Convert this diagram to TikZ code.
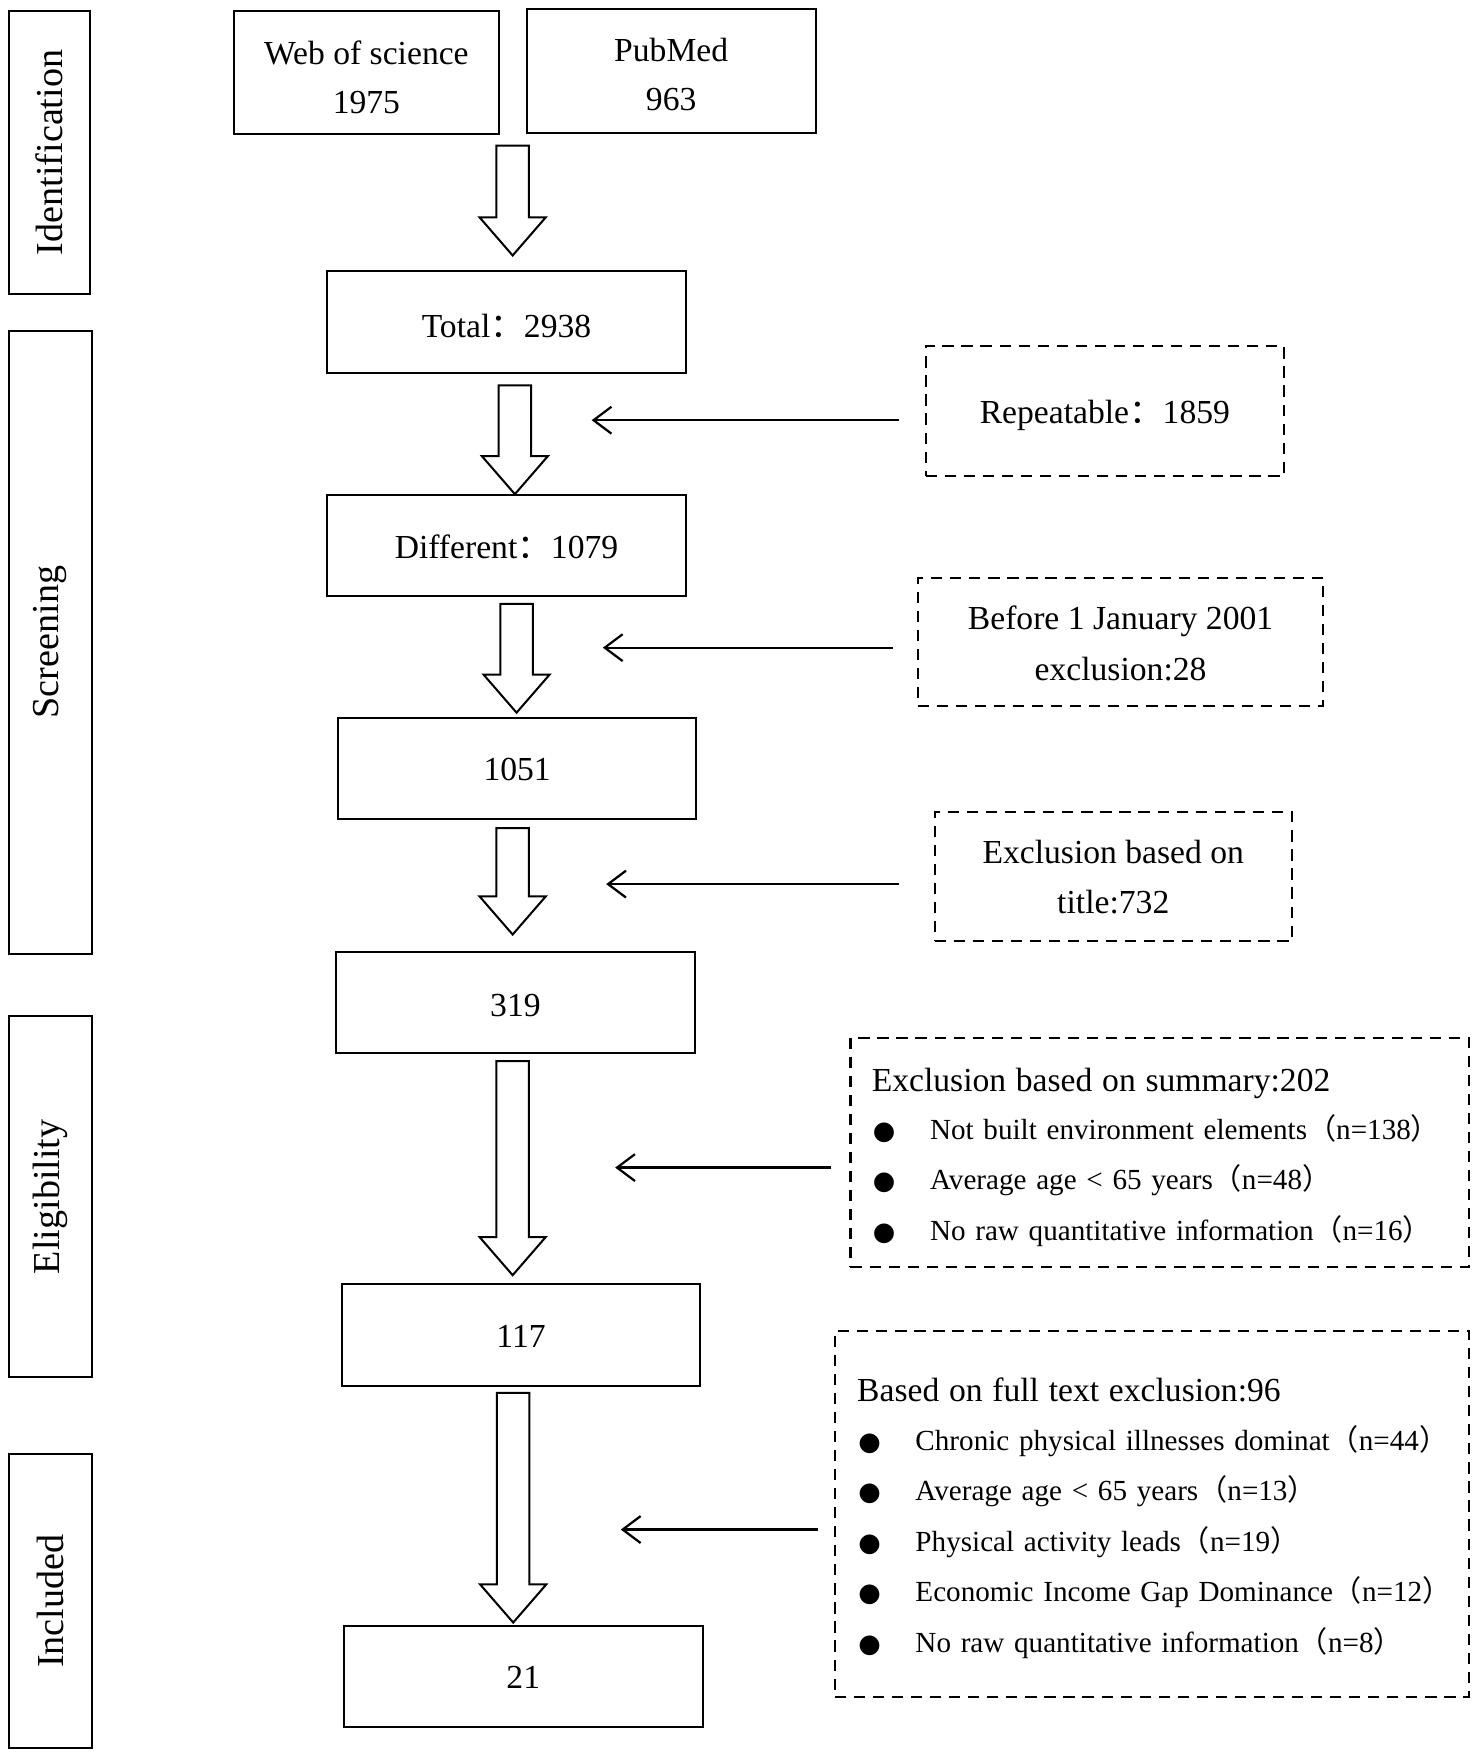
\documentclass[tikz,border=0pt]{standalone}
\usepackage{fontspec}
\usepackage{graphicx}
\setmainfont{Liberation Serif}
\newfontfamily\cjk{Noto Sans CJK SC}
\newfontfamily\dejavu{DejaVu Sans}
\usetikzlibrary{calc,arrows.meta}
\newcommand\fc{{\cjk ：}}
\newcommand\lp{{\cjk （}}
\newcommand\rp{{\cjk ）}}
\newcommand\dn[2][3pt]{\raisebox{-#1}[\height][\depth]{#2}}
\newcommand\bul[1]{\dn[3pt]{\makebox[52pt][l]{\hspace*{1pt}{\dejavu\fontsize{23}{23}\selectfont ●}}#1}}
\newcommand\blockarrow[2]{\draw[blk] let \p1=(#1), \p2=(#2) in
  (\x1-14.5pt,\y1) -- (\x1+14.5pt,\y1) -- (\x1+14.5pt,\y2+34pt) -- (\x1+29.5pt,\y2+34pt)
  -- (\x1,\y2) -- (\x1-29.5pt,\y2+34pt) -- (\x1-14.5pt,\y2+34pt) -- cycle;}
\begin{document}
\begin{tikzpicture}[x=1pt,y=-1pt,
  box/.style={draw, line width=1.8pt, inner sep=0pt, outer sep=0pt, align=center,
    font=\fontsize{30}{44}\selectfont},
  stage/.style={draw, line width=1.8pt, inner sep=0pt, outer sep=0pt,
    font=\fontsize{34}{40}\selectfont},
  dbox/.style={draw, line width=1.8pt, dash pattern=on 10pt off 7pt, inner sep=0pt,
    outer sep=0pt, align=center, font=\fontsize{30}{45}\selectfont},
  lbox/.style={dbox, align=left, inner ysep=0pt, font=\fontsize{26}{45}\selectfont},
  blk/.style={line width=1.8pt, fill=white, line join=miter},
  thinarr/.style={line width=2pt, -{Straight Barb[length=16pt,width=24pt,line width=2pt]}}]
\useasboundingbox (0,0) rectangle (1318,1568);

% stage labels
\node[stage, minimum width=72pt, minimum height=252pt] (sid) at (44,136) {\rotatebox{90}{Identification}};
\node[stage, minimum width=74pt, minimum height=556pt] (sscr) at (45,573) {\rotatebox{90}{Screening}};
\node[stage, minimum width=74pt, minimum height=322pt] (seli) at (45,1068) {\rotatebox{90}{Eligibility}};
\node[stage, minimum width=74pt, minimum height=262pt] (sinc) at (45,1429) {\rotatebox{90}{Included}};

% main boxes
\node[box, minimum width=236pt, minimum height=110pt] (wos) at (327,65) {\dn[4pt]{Web of science}\\\dn[4pt]{1975}};
\node[box, minimum width=258pt, minimum height=111pt] (pub) at (599,63.5) {\dn{PubMed}\\\dn{963}};
\node[box, minimum width=320pt, minimum height=91pt] (total) at (452,287.5) {\dn{Total\fc 2938}};
\node[box, minimum width=320pt, minimum height=90pt] (diff) at (452,487) {\dn[1pt]{Different\fc 1079}};
\node[box, minimum width=319pt, minimum height=90pt] (n1051) at (461.5,686) {\dn[1pt]{1051}};
\node[box, minimum width=320pt, minimum height=90pt] (n319) at (460,895) {\dn[2pt]{319}};
\node[box, minimum width=320pt, minimum height=91pt] (n117) at (465,1191.5) {\dn[1pt]{117}};
\node[box, minimum width=320pt, minimum height=90pt] (n21) at (467,1496) {\dn[1pt]{21}};

% exclusion boxes
\node[dbox, minimum width=320pt, minimum height=116pt] (rep) at (986,367) {\dn[4pt]{Repeatable\fc 1859}};
\node[dbox, minimum width=362pt, minimum height=114pt] (bef) at (1000,573) {\dn[1pt]{Before 1 January 2001}\\\dn[1pt]{exclusion:28}};
\node[dbox, minimum width=319pt, minimum height=115pt] (tit) at (993.5,782.5) {Exclusion based on\\title:732};
\node[lbox, text width=514pt, inner xsep=19pt, minimum height=205pt] (sum) at (1035,1028.5)
  {\dn[5pt]{\fontsize{30}{45}\selectfont Exclusion based on summary:202}\\
   \bul{Not built environment elements\lp n=138\rp}\\
   \bul{Average age < 65 years\lp n=48\rp}\\
   \bul{No raw quantitative information\lp n=16\rp}};
\node[lbox, text width=526pt, inner xsep=20pt, minimum height=326pt] (full) at (1028,1351)
  {\dn[4pt]{\fontsize{30}{45}\selectfont Based on full text exclusion:96}\\
   \bul{Chronic physical illnesses dominat\lp n=44\rp}\\
   \bul{Average age < 65 years\lp n=13\rp}\\
   \bul{Physical activity leads\lp n=19\rp}\\
   \bul{Economic Income Gap Dominance\lp n=12\rp}\\
   \bul{No raw quantitative information\lp n=8\rp}};

% block arrows
\blockarrow{[shift={(12.5,10)}]wos.south east}{[shift={(0,-14)}]total.north}
\blockarrow{[shift={(7.5,11)}]total.south}{[shift={(0,-1)}]diff.north}
\blockarrow{[shift={(9,7)}]diff.south}{[shift={(0,-5)}]n1051.north}
\blockarrow{[shift={(-4,8)}]n1051.south}{[shift={(0,-16)}]n319.north}
\blockarrow{[shift={(-2.5,7)}]n319.south}{[shift={(0,-8)}]n117.north}
\blockarrow{[shift={(-7,6)}]n117.south}{[shift={(0,-3)}]n21.north}

% thin arrows
\coordinate (t1) at (528,375);
\coordinate (t2) at (538,578);
\coordinate (t3) at (541,789);
\coordinate (t4) at (549,1042);
\coordinate (t5) at (554,1365);
\draw[thinarr] ($(rep.west)+(-24,8)$) -- (t1);
\draw[thinarr] ($(bef.west)+(-22,5)$) -- (t2);
\draw[thinarr] ($(tit.west)+(-32,6.5)$) -- (t3);
\draw[thinarr] ($(sum.west)+(-17,13.5)$) -- (t4);
\draw[thinarr] ($(full.west)+(-15,14)$) -- (t5);
\end{tikzpicture}
\end{document}
